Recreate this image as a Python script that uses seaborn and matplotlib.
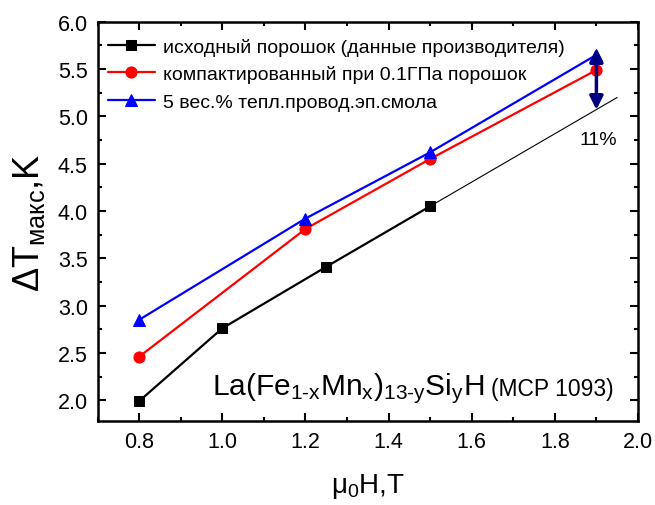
import seaborn as sns
import matplotlib.pyplot as plt
import pandas as pd

# Data
x_raw = [0.8, 1.0, 1.25, 1.5]
y_raw = [1.99, 2.76, 3.41, 4.05]

x_comp = [0.8, 1.2, 1.5, 1.9]
y_comp = [2.46, 3.81, 4.55, 5.49]

x_resin = [0.8, 1.2, 1.5, 1.9]
y_resin = [2.85, 3.92, 4.62, 5.65]

# thin extrapolation of the raw-powder line
x_extra = [1.5, 1.95]
y_extra = [4.05, 5.20]

labels = ["исходный порошок (данные производителя)",
          "компактированный при 0.1ГПа порошок",
          "5 вес.% тепл.провод.эп.смола"]

sns.set_style("ticks")
plt.rcParams["font.family"] = ["Liberation Sans", "DejaVu Sans"]
plt.rcParams["mathtext.fontset"] = "custom"
plt.rcParams["mathtext.rm"] = "Liberation Sans"
plt.rcParams["mathtext.it"] = "Liberation Sans"
plt.rcParams["mathtext.default"] = "regular"
plt.rcParams["text.color"] = "black"
plt.rcParams["axes.labelcolor"] = "black"
plt.rcParams["xtick.color"] = "black"
plt.rcParams["ytick.color"] = "black"
plt.rcParams["axes.edgecolor"] = "black"

fig = plt.figure(figsize=(6.55, 5.06), dpi=100)
ax = fig.add_axes([0.149, 0.166, 0.825, 0.789])

sns.lineplot(x=x_extra, y=y_extra, color="black", lw=0.8, ax=ax)
sns.lineplot(x=x_raw, y=y_raw, color="black", lw=1.6, marker="s", ms=7,
             mec="black", label=labels[0], ax=ax)
sns.lineplot(x=x_comp, y=y_comp, color="red", lw=1.6, marker="o", ms=8,
             mec="red", label=labels[1], ax=ax)
sns.lineplot(x=x_resin, y=y_resin, color="blue", lw=1.6, marker="^", ms=8,
             mec="blue", label=labels[2], ax=ax)

# 11% double arrow
ax.annotate("", xy=(1.9, 5.07), xytext=(1.9, 5.72),
            arrowprops=dict(arrowstyle="<|-|>", color="#000080", lw=2.5,
                            mutation_scale=20, shrinkA=0, shrinkB=0))
ax.text(1.905, 4.76, "11%", fontsize=14, ha="center", va="center")

ax.text(0.976, 2.06, r"La(Fe$_{1\text{-}x}$Mn$_x$)$_{13\text{-}y}$Si$_y$H",
        fontsize=21.5, va="baseline")
ax.text(1.646, 2.06, "(MCP 1093)", fontsize=16.5, va="baseline")

ax.set_xlim(0.7, 2.0)
ax.set_ylim(1.78, 6.0)
ax.set_xticks([0.8, 1.0, 1.2, 1.4, 1.6, 1.8, 2.0])
ax.set_xticks([0.7, 0.9, 1.1, 1.3, 1.5, 1.7, 1.9], minor=True)
ax.set_yticks([2.0, 2.5, 3.0, 3.5, 4.0, 4.5, 5.0, 5.5, 6.0])
ax.set_yticks([2.25, 2.75, 3.25, 3.75, 4.25, 4.75, 5.25, 5.75], minor=True)
ax.xaxis.set_major_formatter(plt.FormatStrFormatter("%.1f"))
ax.yaxis.set_major_formatter(plt.FormatStrFormatter("%.1f"))
ax.tick_params(which="both", direction="in", top=True, right=True,
               width=1.5, labelsize=15.5)
ax.tick_params(which="major", length=6, pad=7)
ax.tick_params(which="minor", length=3)
for s in ax.spines.values():
    s.set_linewidth(1.8)

ax.set_xlabel(r"$\mu_0$H,T", fontsize=20, labelpad=14)
ax.set_ylabel(r"$\Delta$T$_{макс}$,K", fontsize=26, labelpad=8)

ax.legend(loc="upper left", bbox_to_anchor=(0.005, 0.98), frameon=False,
          fontsize=14, handlelength=2.4, borderaxespad=0.1, borderpad=0.3,
          labelspacing=0.5, handletextpad=0.4)

plt.savefig("out.png", dpi=100)
